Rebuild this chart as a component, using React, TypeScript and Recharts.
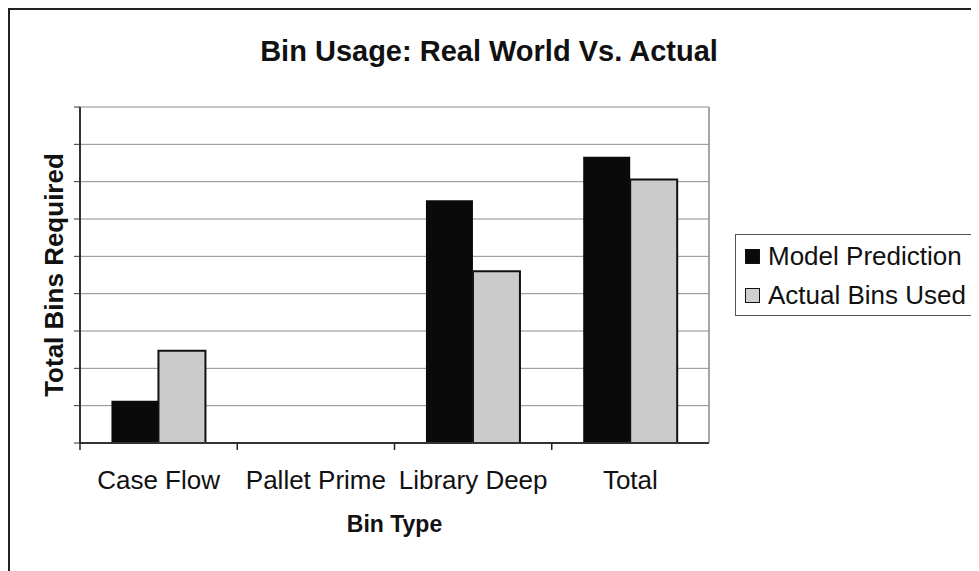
import React from 'react';
import { BarChart, Bar, XAxis, YAxis, CartesianGrid, Legend } from 'recharts';

const categories = ['Case Flow', 'Pallet Prime', 'Library Deep', 'Total'];
const modelPrediction = [1.13, 0, 6.5, 7.67];
const actualBinsUsed = [2.47, 0, 4.6, 7.06];
const yTicks = [0, 1, 2, 3, 4, 5, 6, 7, 8, 9];
const seriesNames = ['Model Prediction', 'Actual Bins Used'];

const data = categories.map((name, i) => ({
  name,
  model: modelPrediction[i],
  actual: actualBinsUsed[i],
}));

const FONT = '"Liberation Sans", Arial, sans-serif';
const TICK = 7;

const BoundaryTick = (props: any) => {
  const { x, y, payload, index, visibleTicksCount } = props;
  const half = payload && payload.offset ? payload.offset : 0;
  const axisY = y - TICK;
  return (
    <g>
      <line x1={x - half} x2={x - half} y1={axisY} y2={axisY + TICK} stroke="#222" strokeWidth={1.5} />
      {index === visibleTicksCount - 1 && (
        <line x1={x + half} x2={x + half} y1={axisY - 336} y2={axisY} stroke="#8a8a8a" strokeWidth={1.5} />
      )}
      <text x={x} y={axisY + 46} textAnchor="middle" fontSize={26} fontFamily={FONT} fill="#111">
        {payload.value}
      </text>
    </g>
  );
};

// y axis shows tick marks only, no numbers
const NoLabel = () => <g />;

const LegendBox = () => (
  <div
    style={{
      border: '1px solid #555',
      width: 260,
      height: 82,
      boxSizing: 'border-box',
      padding: '2px 0 0 9px',
      fontFamily: FONT,
      fontSize: 26,
      color: '#111',
    }}
  >
    {seriesNames.map((n, i) => (
      <div key={n} style={{ display: 'flex', alignItems: 'center', height: 39 }}>
        <span
          style={{
            display: 'inline-block',
            width: 15,
            height: 15,
            boxSizing: 'border-box',
            background: i === 0 ? '#0a0a0a' : '#cfcfcf',
            border: '1.5px solid #111',
            marginRight: 8,
          }}
        />
        <span>{n}</span>
      </div>
    ))}
  </div>
);

export default function App() {
  return (
    <div
      style={{
        position: 'relative',
        width: 971,
        height: 563,
        boxSizing: 'border-box',
        borderTop: '2px solid #222',
        borderLeft: '2px solid #222',
        overflow: 'hidden',
        background: '#fff',
      }}
    >
      <style>{'html,body{overflow:hidden}'}</style>
      <div
        style={{
          position: 'absolute',
          left: 0,
          width: 958,
          top: 26,
          textAlign: 'center',
          fontFamily: FONT,
          fontWeight: 'bold',
          fontSize: 29,
          lineHeight: '30px',
          color: '#111',
        }}
      >
        Bin Usage: Real World Vs. Actual
      </div>
      <BarChart
        width={969}
        height={561}
        data={data}
        margin={{ top: 97, right: 10, bottom: 0, left: 0 }}
        barCategoryGap="20%"
        barGap={0}
      >
        <CartesianGrid vertical={false} stroke="#8c8c8c" strokeWidth={1} />
        <XAxis
          dataKey="name"
          height={128}
          tickSize={TICK}
          tickMargin={0}
          tickLine={false}
          tick={<BoundaryTick />}
          interval={0}
          axisLine={{ stroke: '#333', strokeWidth: 2 }}
          label={{
            value: 'Bin Type',
            position: 'insideBottom',
            offset: 39,
            fontSize: 23,
            fontWeight: 'bold',
            fontFamily: FONT,
            fill: '#111',
          }}
        />
        <YAxis
          width={70}
          domain={[0, 9]}
          ticks={yTicks}
          interval={0}
          tick={<NoLabel />}
          tickSize={6}
          tickLine={{ stroke: '#333' }}
          axisLine={{ stroke: '#333', strokeWidth: 2 }}
          label={{
            value: 'Total Bins Required',
            angle: -90,
            position: 'center',
            dx: 9,
            fontSize: 26,
            fontWeight: 'bold',
            fontFamily: FONT,
            fill: '#111',
          }}
        />
        <Legend
          layout="horizontal"
          verticalAlign="middle"
          align="right"
          content={<LegendBox />}
          wrapperStyle={{ left: 725, top: 224, width: 260 }}
        />
        <Bar dataKey="model" name={seriesNames[0]} fill="#0a0a0a" isAnimationActive={false} />
        <Bar
          dataKey="actual"
          name={seriesNames[1]}
          fill="#cbcbcb"
          stroke="#111"
          strokeWidth={2}
          isAnimationActive={false}
        />
      </BarChart>
    </div>
  );
}
